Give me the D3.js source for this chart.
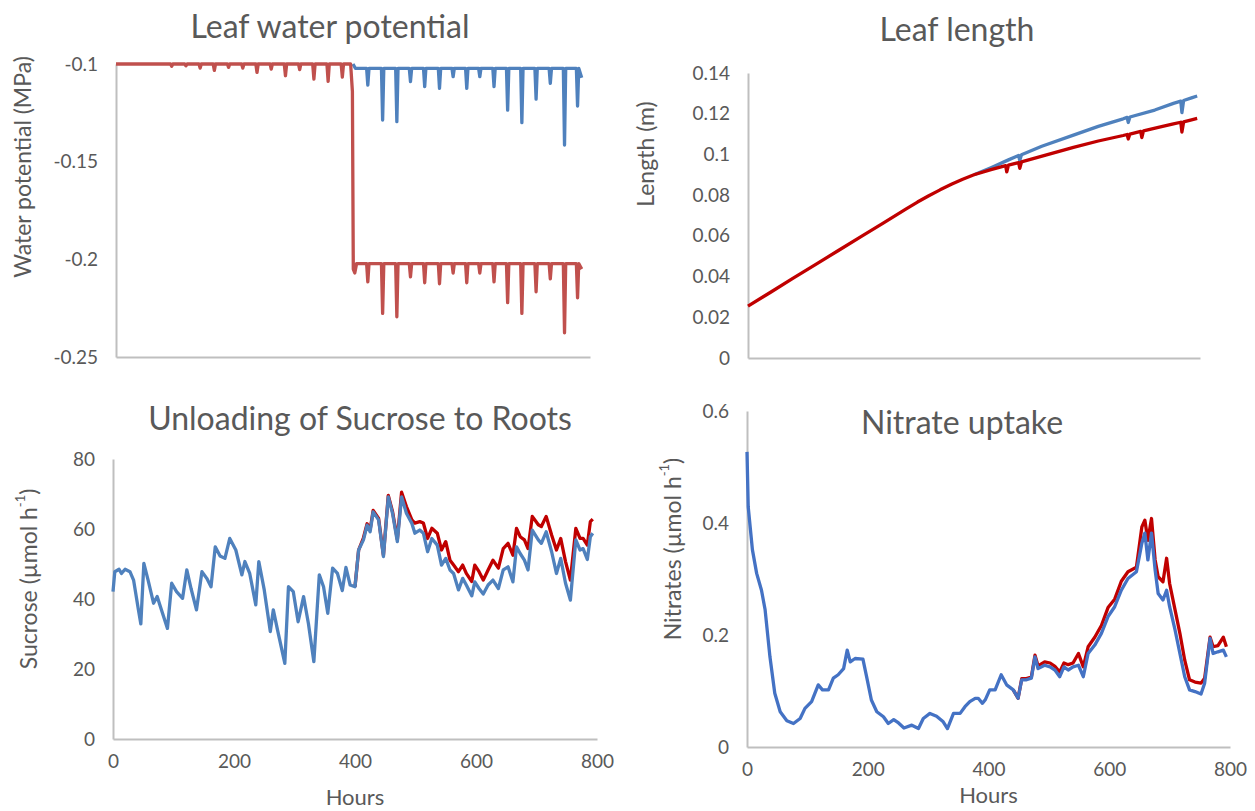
<!DOCTYPE html>
<html>
<head>
<meta charset="utf-8">
<script src="https://cdn.jsdelivr.net/npm/d3@7"></script>
<style>
body { margin: 0; background: #fff; }
text { font-family: Lato, "Open Sans", sans-serif; fill: #595959; }
</style>
</head>
<body>
<div id="viz"></div>
<script>
// ---- data (hours, values) ----
let hourTicks = [0, 200, 400, 600, 800];
let wpTicks = [-0.25, -0.2, -0.15, -0.1];
let lenTicks = [0, 0.02, 0.04, 0.06, 0.08, 0.1, 0.12, 0.14];
let sucTicks = [0, 20, 40, 60, 80];
let nitTicks = [0, 0.2, 0.4, 0.6];

// leaf water potential: daily dips
let wpPreDipHours = [94, 118, 142, 166, 190, 214, 238, 262, 286, 310, 334, 358, 382];
let wpPreDipVals = [-0.1012, -0.1009, -0.1021, -0.1033, -0.1017, -0.1021, -0.1043, -0.1026, -0.106, -0.1029, -0.1077, -0.1089, -0.1067];
let wpPostDipHours = [425, 450, 474, 497, 521, 546, 569, 592, 614, 638, 661, 685, 709, 733, 757, 779];
let wpWellDipVals = [-0.1108, -0.1287, -0.1295, -0.109, -0.1116, -0.1125, -0.1065, -0.1125, -0.1065, -0.1116, -0.1236, -0.130, -0.118, -0.1099, -0.1415, -0.1215];
let wpDryDipVals = [-0.2115, -0.2277, -0.2294, -0.209, -0.212, -0.2125, -0.207, -0.212, -0.207, -0.2115, -0.2222, -0.2277, -0.2166, -0.210, -0.2376, -0.2197];

// leaf length
let lenShared = [[0, 0.0255], [40, 0.0323], [80, 0.0392], [120, 0.046], [160, 0.0528], [200, 0.0596],
    [240, 0.0664], [280, 0.0733], [300, 0.0766], [320, 0.0797], [340, 0.0826], [360, 0.0853], [380, 0.0878], [400, 0.0900]];
let lenDry = [[400, 0.0900], [430, 0.0925], [456, 0.0945], [458, 0.0914], [461, 0.0947], [479, 0.0960],
    [481, 0.0932], [484, 0.0963], [530, 0.0999], [576, 0.1035], [620, 0.1066], [664, 0.1093], [671, 0.1098],
    [673, 0.1076], [676, 0.1100], [695, 0.1113], [697, 0.1083], [700, 0.1116], [730, 0.1135], [753, 0.1150],
    [766, 0.1158], [768, 0.1110], [771, 0.1160], [785, 0.1170], [795, 0.1177]];
let lenWell = [[400, 0.0900], [430, 0.0935], [460, 0.0972], [479, 0.0995], [481, 0.0970], [484, 0.0998],
    [520, 0.1040], [576, 0.1095], [620, 0.1138], [664, 0.1175], [671, 0.1182], [673, 0.1157], [676, 0.1184],
    [720, 0.1218], [753, 0.1251], [766, 0.1262], [768, 0.1205], [771, 0.1265], [785, 0.1278], [795, 0.1287]];

// sucrose unloading
let sucHours = [0, 3, 10, 14, 20, 28, 34, 42, 46, 51, 58, 67, 73, 80, 90, 97, 105, 115, 122, 129, 138, 147, 155, 162,
    169, 177, 185, 193, 203, 213, 218, 226, 236, 241, 250, 260, 265, 272, 284, 290, 298, 306, 315, 323, 332, 341,
    348, 355, 363, 371, 379, 385, 392, 400, 406, 414, 420, 425, 430, 439, 447, 455, 462, 470, 477, 485, 494, 499,
    507, 513, 520, 527, 536, 543, 550, 557, 563, 571, 578, 584, 593, 598, 605, 612, 620, 628, 637, 645, 653, 661,
    667, 673, 680, 686, 693, 703, 708, 716, 725, 733, 740, 748, 756, 765, 772, 777, 784, 789, 793];
let sucWell = [42.1, 47.8, 48.5, 47.3, 48.5, 47.8, 45.4, 36.9, 32.9, 50.2, 45.4, 38.8, 40.7, 36.9, 31.6, 44.5, 42.1,
    40.2, 48.3, 43, 36.9, 47.8, 45.9, 43.5, 54.9, 52.3, 51.6, 57.3, 54, 46.9, 50.7, 47.3, 38.3, 50.7, 42.6, 30.7,
    36.9, 31.1, 21.6, 43.5, 42.1, 33.5, 40.7, 33, 22.1, 46.9, 43.5, 35.9, 48.8, 47.3, 42.4, 49, 44, 43.5, 54, 56.9,
    61.1, 59.2, 64.9, 62.6, 52.1, 69.2, 64.5, 56.4, 69.2, 64.5, 61.6, 58.8, 59.7, 58.8, 53.5, 57.3, 55.4, 49.7, 51.6,
    48.3, 47.3, 42.6, 45.9, 44, 40.9, 44.9, 43, 41.4, 44, 45.4, 43, 48.3, 49.2, 44.9, 54.9, 53, 51.1, 48.3, 59.7,
    56.9, 55.9, 59.2, 53.5, 47.3, 51.6, 44.5, 39.7, 56.9, 54, 54.4, 51.3, 57.8, 58.8];
let sucDryHours = [400, 406, 414, 420, 425, 430, 439, 447, 455, 462, 470, 477, 485, 494, 499, 507, 513, 520, 527, 536,
    543, 550, 557, 563, 571, 578, 584, 593, 598, 605, 612, 620, 628, 637, 645, 653, 661, 667, 673, 680, 686, 693,
    703, 708, 716, 725, 733, 740, 748, 756, 765, 772, 777, 784, 789, 793];
let sucDry = [43.5, 54, 57.5, 61.5, 59.8, 65.3, 63, 52.5, 69.6, 65, 57, 70.5, 66.4, 62.6, 61.7, 62.1, 61.7, 57.3, 60.2,
    58.8, 54, 56.4, 51.1, 49.7, 47.8, 49.7, 47.3, 45, 49.7, 47.8, 45.4, 48.3, 51.1, 48.8, 54.4, 55.9, 52.5, 60.2,
    57.8, 56.9, 54.4, 63.6, 61.2, 60.7, 63.6, 58.3, 54, 57.3, 50.7, 45.4, 60.2, 57.3, 57.3, 55.4, 62.1, 62.8];

// nitrate uptake
let nitHours = [0, 2, 9, 16, 24, 30, 38, 46, 55, 66, 77, 88, 96, 107, 118, 125, 135, 143, 151, 160, 166, 171, 179,
    192, 198, 206, 215, 226, 234, 243, 251, 260, 273, 284, 292, 303, 314, 325, 332, 342, 353, 361, 369, 378, 383,
    390, 395, 402, 411, 421, 430, 441, 449, 455, 463, 471, 477, 482, 493, 502, 510, 518, 525, 532, 540, 549, 557,
    565, 576, 587, 598, 609, 620, 631, 645, 654, 659, 664, 670, 676, 681, 689, 695, 700, 709, 717, 725, 733, 742,
    752, 758, 767, 772, 780, 789, 794];
let nitWell = [0.527, 0.429, 0.352, 0.31, 0.28, 0.245, 0.161, 0.096, 0.063, 0.047, 0.042, 0.051, 0.069, 0.081, 0.111,
    0.102, 0.102, 0.123, 0.129, 0.14, 0.173, 0.152, 0.158, 0.157, 0.126, 0.084, 0.063, 0.054, 0.042, 0.049, 0.043,
    0.034, 0.039, 0.033, 0.051, 0.06, 0.055, 0.045, 0.033, 0.06, 0.06, 0.072, 0.081, 0.087, 0.087, 0.078, 0.085,
    0.102, 0.102, 0.129, 0.111, 0.102, 0.087, 0.12, 0.12, 0.123, 0.161, 0.14, 0.146, 0.143, 0.1375, 0.1255, 0.143,
    0.1375, 0.143, 0.146, 0.1255, 0.167, 0.182, 0.203, 0.233, 0.2505, 0.28, 0.301, 0.313, 0.364, 0.382, 0.334,
    0.382, 0.316, 0.274, 0.2625, 0.28, 0.2505, 0.209, 0.167, 0.1255, 0.102, 0.099, 0.0945, 0.114, 0.194, 0.167,
    0.17, 0.173, 0.161];
let nitDryHours = [441, 449, 455, 463, 471, 477, 482, 493, 502, 510, 518, 525, 532, 540, 549, 557, 565, 576, 587, 598,
    609, 620, 631, 645, 654, 659, 664, 670, 676, 681, 689, 695, 700, 709, 717, 725, 733, 742, 752, 758, 767, 772,
    780, 789, 794];
let nitDry = [0.102, 0.087, 0.122, 0.122, 0.125, 0.164, 0.145, 0.152, 0.15, 0.144, 0.134, 0.15, 0.147, 0.15, 0.167,
    0.143, 0.179, 0.196, 0.217, 0.249, 0.264, 0.296, 0.313, 0.321, 0.393, 0.405, 0.369, 0.408, 0.334, 0.304, 0.295,
    0.337, 0.292, 0.245, 0.203, 0.155, 0.12, 0.116, 0.114, 0.123, 0.196, 0.179, 0.181, 0.196, 0.179];

// ---- svg ----
const svg = d3.select('#viz')
    .append('svg')
    .attr('width', 1255)
    .attr('height', 811);

let fmt = d => String(+d.toFixed(2));

function dips(base, hours, vals) {
    let pts = [];
    hours.forEach((h, i) => {
        pts.push([h - 2, base], [h, vals[i]], [h + 2, base]);
    });
    return pts;
}

function panel(o) {
    let x = d3.scaleLinear().domain([0, 800]).range([o.left, o.right]);
    let y = d3.scaleLinear().domain(o.yDomain).range([o.bottom, o.top]);
    let g = svg.append('g');

    let ya = g.append('g')
        .attr('transform', `translate(${o.left},0)`)
        .call(d3.axisLeft(y).tickValues(o.yTicks).tickSize(0).tickPadding(18).tickFormat(fmt));
    let xa = g.append('g')
        .attr('transform', `translate(0,${o.bottom})`)
        .call(d3.axisBottom(x).tickValues(o.xTicks || []).tickSize(0).tickPadding(16).tickFormat(d3.format('d')));

    [ya, xa].forEach(a => {
        a.attr('font-family', null).attr('font-size', null);
        a.select('.domain').attr('stroke', '#bfbfbf').attr('stroke-width', 2);
        a.selectAll('text').attr('fill', '#595959').style('font-size', '19px');
    });

    g.append('text')
        .attr('x', o.titleX)
        .attr('y', o.titleY)
        .attr('text-anchor', 'middle')
        .style('font-size', '32px')
        .text(o.title);

    let yt = g.append('text')
        .attr('transform', `translate(${o.yLabelX},${o.yLabelY}) rotate(-90)`)
        .attr('text-anchor', 'middle')
        .attr('dominant-baseline', 'central')
        .style('font-size', '23px')
        .text(o.yLabel);
    if (o.sup) {
        yt.append('tspan').attr('baseline-shift', 'super').style('font-size', '13px').text(o.sup);
        yt.append('tspan').text(')');
    }

    if (o.xLabel) {
        g.append('text')
            .attr('x', (o.left + o.right) / 2)
            .attr('y', o.xLabelY)
            .attr('text-anchor', 'middle')
            .style('font-size', '22px')
            .text(o.xLabel);
    }

    let line = d3.line().x(d => x(d[0])).y(d => y(d[1]));
    o.series.forEach(s => {
        g.append('path')
            .datum(s.data)
            .attr('fill', 'none')
            .attr('stroke', s.color)
            .attr('stroke-width', 3.3)
            .attr('stroke-linejoin', 'round')
            .attr('d', line);
    });
}

// series built from the read values
let wpDry = [[0, -0.1]].concat(dips(-0.1, wpPreDipHours, wpPreDipVals),
    [[396, -0.1], [399, -0.114], [400.5, -0.205], [403, -0.207], [406, -0.2022]],
    dips(-0.2022, wpPostDipHours, wpDryDipVals), [[786, -0.205]]);
let wpWell = [[400, -0.1], [404, -0.1022]].concat(dips(-0.1022, wpPostDipHours, wpWellDipVals), [[786, -0.107]]);

let sucWellPts = sucHours.map((h, i) => [h, sucWell[i]]);
let sucDryPts = sucDryHours.map((h, i) => [h, sucDry[i]]);
let nitWellPts = nitHours.map((h, i) => [h, nitWell[i]]);
let nitDryPts = nitDryHours.map((h, i) => [h, nitDry[i]]);

panel({
    left: 116, right: 590, top: 64, bottom: 357,
    yDomain: [-0.25, -0.1], yTicks: wpTicks,
    title: 'Leaf water potential', titleX: 330, titleY: 38,
    yLabel: 'Water potential (MPa)', yLabelX: 22, yLabelY: 167,
    series: [{data: wpWell, color: '#4f81bd'}, {data: wpDry, color: '#c0504d'}]
});

panel({
    left: 748, right: 1200, top: 73, bottom: 358,
    yDomain: [0, 0.14], yTicks: lenTicks,
    title: 'Leaf length', titleX: 957, titleY: 41,
    yLabel: 'Length (m)', yLabelX: 645, yLabelY: 154,
    series: [{data: lenWell, color: '#4f81bd'}, {data: lenShared.concat(lenDry), color: '#c00000'}]
});

panel({
    left: 113, right: 597, top: 459, bottom: 739,
    yDomain: [0, 80], yTicks: sucTicks, xTicks: hourTicks,
    title: 'Unloading of Sucrose to Roots', titleX: 360, titleY: 430,
    yLabel: 'Sucrose (\u00b5mol h', sup: '-1', yLabelX: 28, yLabelY: 579,
    xLabel: 'Hours', xLabelY: 805,
    series: [{data: sucDryPts, color: '#c00000'}, {data: sucWellPts, color: '#4f81bd'}]
});

panel({
    left: 747, right: 1230, top: 411, bottom: 747,
    yDomain: [0, 0.6], yTicks: nitTicks, xTicks: hourTicks,
    title: 'Nitrate uptake', titleX: 962, titleY: 434,
    yLabel: 'Nitrates (\u00b5mol h', sup: '-1', yLabelX: 672, yLabelY: 549,
    xLabel: 'Hours', xLabelY: 803,
    series: [{data: nitDryPts, color: '#c00000'}, {data: nitWellPts, color: '#4472c4'}]
});
</script>
</body>
</html>
